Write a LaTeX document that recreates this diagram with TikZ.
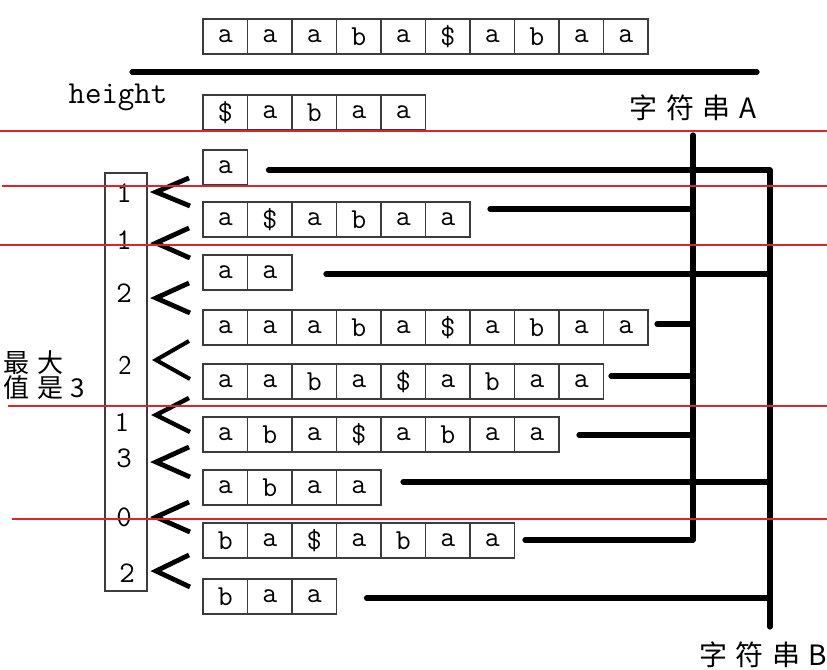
\documentclass[tikz,border=0pt]{standalone}
\usepackage{fontspec}
\newfontfamily\cjk[LetterSpace=30]{Noto Sans CJK SC}
\usetikzlibrary{positioning}
\definecolor{guidered}{RGB}{218,37,48}
\definecolor{cellgray}{RGB}{60,60,60}

% one row of suffix cells, left edge at x=203
\newcommand\cellrow[3]{%
  \foreach \c [count=\i] in {#3}
    \node[cell] (#1-\i) at ({203+(\i-1)*44.5},#2) {\c};}

\begin{document}
\begin{tikzpicture}[x=0.5pt,y=-0.5pt,
  cell/.style={draw=cellgray,line width=0.6pt,anchor=north west,minimum width=22.25pt,minimum height=17.5pt,inner sep=0pt,outer sep=0pt,font=\fontsize{14.5}{14.5}\selectfont\ttfamily},
  colbox/.style={draw=cellgray,line width=0.6pt,minimum width=21pt,minimum height=209pt,inner sep=0pt},
  digit/.style={font=\fontsize{15}{15}\selectfont\ttfamily,inner sep=0pt},
  sdigit/.style={font=\fontsize{13.5}{13.5}\selectfont\sffamily,inner sep=0pt},
  cjklabel/.style={font=\cjk\fontsize{14}{14}\selectfont,inner sep=0pt},
  bus/.style={line width=2.6pt,line cap=round,line join=round},
  chev/.style={line width=2.4pt,line join=miter},
  guide/.style={guidered,line width=1.3pt}
]
\useasboundingbox (0,0) rectangle (827,670);

% string on top and the separator
\cellrow{top}{19}{a,a,a,b,a,\$,a,b,a,a}
\draw[bus] (132,72) -- (757,72);
\node[font=\fontsize{16}{16}\selectfont\ttfamily,inner sep=0pt] (hlabel) at (118,97) {height};
\cellrow{r0}{95}{\$,a,b,a,a}

% sorted suffixes
\cellrow{r1}{150}{a}
\cellrow{r2}{202}{a,\$,a,b,a,a}
\cellrow{r3}{255}{a,a}
\cellrow{r4}{310}{a,a,a,b,a,\$,a,b,a,a}
\cellrow{r5}{364}{a,a,b,a,\$,a,b,a,a}
\cellrow{r6}{417}{a,b,a,\$,a,b,a,a}
\cellrow{r7}{470}{a,b,a,a}
\cellrow{r8}{523}{b,a,\$,a,b,a,a}
\cellrow{r9}{579}{b,a,a}

% height column
\node[colbox] (hcol) at (126,382) {};
\node[digit] (h1) at (124,193) {1};
\node[digit] (h2) at (124,240) {1};
\node[digit] (h3) at (124,293) {2};
\node[sdigit] (h4) at (125,365) {2};
\node[sdigit] (h5) at (122,422) {1};
\node[digit] (h6) at (124,458) {3};
\node[digit] (h7) at (124,517) {0};
\node[digit] (h8) at (127,573) {2};
\foreach \y/\h/\w in {192/14/2.4,243/15/2.4,298/15/2.4,360/19/2.0,415/17/2.2,462/15/2.4,517/15/2.4,571/16/2.4}
  \draw[chev,line width=\w pt] (189,\y-\h) -- (156,\y) -- (190,\y+\h);
\node[align=left,anchor=west,inner sep=0pt,font=\cjk\fontsize{13}{12.5}\selectfont] (maxv) at (3,375) {最大\\值是3};

% the two strings
\coordinate (busA) at (693,135);
\coordinate (busAend) at (693,540);
\coordinate (busB) at (770,170);
\coordinate (busBend) at (770,627);
\draw[bus] (busA) -- (busAend);
\draw[bus] (busB) -- (busBend);
\foreach \r/\g/\dy/\b in {r1-1/21/2.5/B,r2-6/20/-10.5/A,r3-2/34/1.5/B,r4-10/9/-3.5/A,r5-9/7.5/-5.5/A,r6-8/20/0.5/A,r7-4/22/-5.5/B,r8-7/10.5/-0.5/A,r9-3/30/1.5/B}
  \draw[bus] (\r.east) ++(\g,\dy) coordinate (s) -- (s -| bus\b);
\node[cjklabel] (strA) at (693,108) {字符串A};
\node[cjklabel] (strB) at (763,655) {字符串B};

% red guide lines
\draw[guide] (0,131) -- (827,131);
\draw[guide] (2,186) -- (827,186);
\draw[guide] (0,245) -- (827,245);
\draw[guide] (8,406) -- (827,406);
\draw[guide] (12,519) -- (827,519);
\end{tikzpicture}
\end{document}
